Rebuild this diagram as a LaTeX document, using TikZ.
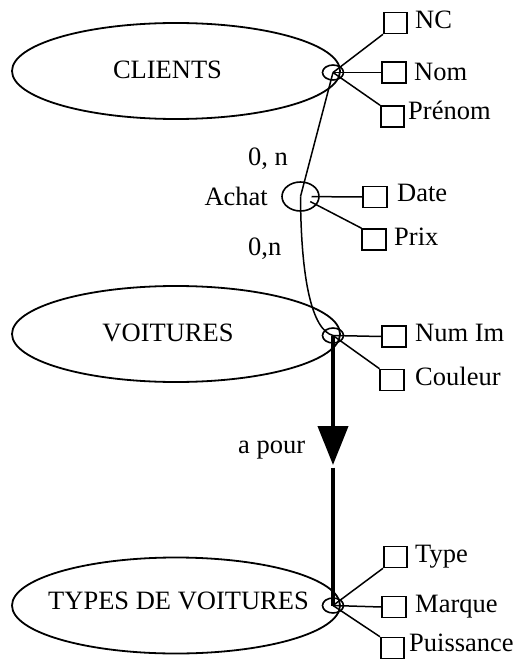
\documentclass[tikz,border=0pt]{standalone}
\usepackage{fontspec}
\setmainfont{Liberation Serif}
\usetikzlibrary{arrows.meta,shapes.geometric}
\tikzset{
  entity/.style={draw, ellipse, line width=1.8pt, minimum width=328pt, minimum height=96pt, inner sep=0pt},
  hub/.style={draw, ellipse, line width=1.6pt, minimum width=21pt, minimum height=15pt, inner sep=0pt},
  attr/.style={draw, line width=1.6pt, minimum width=23.5pt, minimum height=21pt, inner sep=0pt},
  lbl/.style={inner sep=0pt, anchor=base west},
  link/.style={line width=1.5pt},
  strong/.style={line width=4.2pt}
}
\begin{document}
\begin{tikzpicture}[x=1pt, y=-1pt, font=\fontsize{26.5}{30}\selectfont]
\useasboundingbox (0,0) rectangle (515,660);
\node[entity] (clients) at (176,71) {};
\node[inner sep=0pt, anchor=base] (clientsname) at (167.5,78.5) {CLIENTS};
\node[entity] (voitures) at (176,334) {};
\node[inner sep=0pt, anchor=base] (voituresname) at (168,341.5) {VOITURES};
\node[entity] (types) at (176,605.5) {};
\node[inner sep=0pt, anchor=base] (typesname) at (178.5,609.5) {TYPES DE VOITURES};
\node[hub] (clh) at (333,72.5) {};
\node[hub] (voh) at (333,335.5) {};
\node[hub] (tyh) at (333,605.5) {};
\node[hub, minimum width=37pt, minimum height=29pt] (achat) at (300.5,196.5) {};
\node[inner sep=0pt, anchor=base east] (achatname) at (268,205) {Achat};
\node[attr] (nc) at (395.5,23) {};
\node[attr] (nom) at (394,72.5) {};
\node[attr] (prenom) at (392.5,116.5) {};
\node[attr] (date) at (375,197) {};
\node[attr] (prix) at (374,239.5) {};
\node[attr] (numim) at (394,336.5) {};
\node[attr] (couleur) at (392,380) {};
\node[attr] (type) at (395.5,557) {};
\node[attr] (marque) at (394,607) {};
\node[attr] (puissance) at (392.5,648) {};
\node[lbl] (nclbl) at (415,28.5) {NC};
\node[lbl] (nomlbl) at (414,81) {Nom};
\node[lbl] (prenomlbl) at (408,120) {Prénom};
\node[lbl] (datelbl) at (397,201.5) {Date};
\node[lbl] (prixlbl) at (394,245) {Prix};
\node[lbl] (numimlbl) at (415,341.5) {Num Im};
\node[lbl] (couleurlbl) at (415,385) {Couleur};
\node[lbl] (typelbl) at (415,562.5) {Type};
\node[lbl] (marquelbl) at (415,612) {Marque};
\node[lbl] (puissancelbl) at (409,651.5) {Puissance};
\node[lbl] (card1) at (248,166) {0, n};
\node[lbl] (card2) at (248,255) {0,n};
\node[lbl] (apour) at (238,453) {a pour};
\draw[link] (clh.center) -- (nc.south west);
\draw[link] (clh.center) -- (nom.west);
\draw[link] (clh.center) -- (prenom.north west);
\draw[link, shorten <=11pt] (achat.center) -- (date.west);
\draw[link, shorten <=11pt] (achat.center) -- (prix.north west);
\draw[link] (voh.center) -- (numim.west);
\draw[link] (voh.center) -- (couleur.north west);
\draw[link] (tyh.center) -- (type.south west);
\draw[link] (tyh.center) -- (marque.west);
\draw[link] (tyh.center) -- (puissance.north west);
\draw[link] (clh.center) -- (achat.center);
\draw[link] (achat.center) .. controls (301,280) and (312,330) .. (voh.center);
\coordinate (tip) at (333,465);
\coordinate (tail) at (333,467.5);
\draw[strong, -{Triangle[length=39pt,width=30pt]}] (voh.center) -- (tip);
\draw[strong] (tail) -- (tyh.center);
\end{tikzpicture}
\end{document}
